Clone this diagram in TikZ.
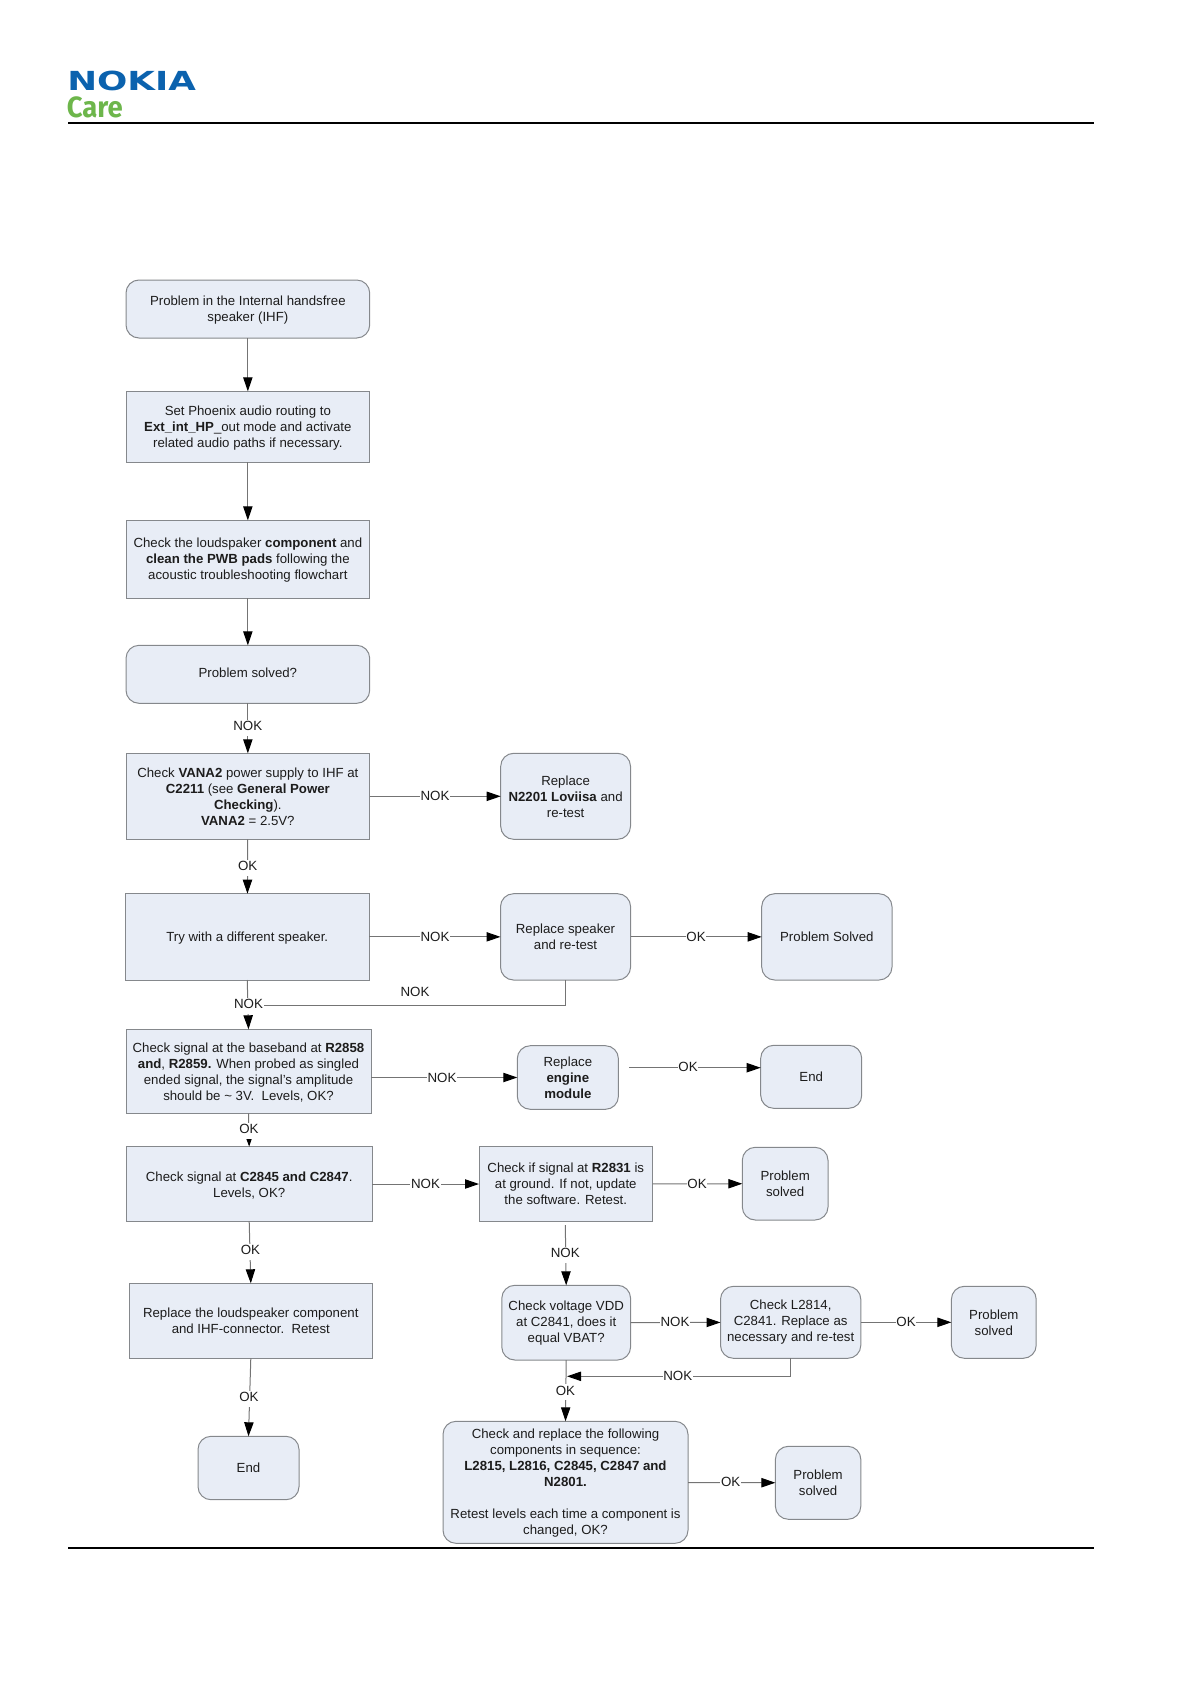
\documentclass[tikz,border=0pt]{standalone}
\usepackage{fontspec}
\usepackage{graphicx}
\setmainfont{Liberation Sans}
\newfontfamily\carefont{Fira Sans}
\newfontfamily\nokiafont{DejaVu Sans}
\usetikzlibrary{arrows.meta}
\definecolor{boxfill}{HTML}{E8EDF6}
\definecolor{boxline}{HTML}{85888C}
\definecolor{linecol}{HTML}{747474}
\definecolor{txt}{HTML}{1C1C1C}
\definecolor{nokiablue}{HTML}{0B62AE}
\definecolor{caregreen}{HTML}{6DB64B}
\tikzset{
  sqbox/.style={draw=boxline,fill=boxfill,line width=0.75pt,inner sep=0pt,outer sep=0pt,align=center,text=txt,font=\fontsize{9.92}{12}\selectfont},
  rbox/.style={sqbox,rounded corners=9.75pt},
  conn/.style={draw=linecol,line width=0.75pt,-{Triangle[length=10.5pt,width=7pt,black]}},
  plain/.style={draw=linecol,line width=0.75pt},
  lab/.style={fill=white,inner sep=0.6pt,outer sep=0pt,text=txt,font=\fontsize{10}{12}\selectfont},
  vlab/.style={lab,anchor=base,yshift=-3.6pt,text height=7.6pt,text depth=3.2pt},
  rulerline/.style={draw=black,line width=1.5pt}
}
\newcommand{\bx}[7]{\node[#2,minimum width={(#5-#3)*0.75pt},minimum height={(#6-#4)*0.75pt}] (#1) at ({(#3+#5)/2},{(#4+#6)/2}) {#7};}
\newcommand{\dn}{\rule{0pt}{8.9pt}}
\newcommand{\up}{\rule[-2.6pt]{0pt}{0pt}}
\begin{document}
\begin{tikzpicture}[x=0.75pt,y=-0.75pt]
\useasboundingbox (0,0) rectangle (1191,1684);
% header and footer
\node[inner sep=0pt,anchor=north west,text=nokiablue] (nokia) at (67,71) {\resizebox{96.5pt}{14.6pt}{\nokiafont\bfseries NOKIA}};
\node[inner sep=0pt,anchor=north west,text=caregreen] (care) at (66.5,96.5) {\resizebox{42pt}{15.6pt}{\carefont\bfseries Care}};
\coordinate (rt1) at (68,122.7); \coordinate (rt2) at (1094,122.7);
\coordinate (rb1) at (68,1547.7); \coordinate (rb2) at (1094,1547.7);
\draw[rulerline] (rt1) -- (rt2);
\draw[rulerline] (rb1) -- (rb2);
% boxes
\bx{a}{rbox}{126}{280}{369.7}{338}{\dn Problem in the Internal handsfree\\speaker (IHF)}
\bx{b}{sqbox}{126}{391.3}{369.7}{462.3}{\dn Set Phoenix audio routing to\\\textbf{Ext\_int\_HP}\_out mode and activate\\related audio paths if necessary.}
\bx{c}{sqbox}{126}{520.3}{369.7}{598.3}{\dn Check the loudspaker \textbf{component} and\\\textbf{clean the PWB pads} following the\\acoustic troubleshooting flowchart}
\bx{d}{rbox}{126}{645.3}{369.7}{703.3}{Problem solved?\up}
\bx{e}{sqbox}{126}{753.3}{369.7}{839.3}{Check \textbf{VANA2} power supply to IHF at\\\textbf{C2211} (see \textbf{General Power}\\\textbf{Checking}).\\\textbf{VANA2} = 2.5V?}
\bx{e2}{rbox}{500.7}{753.3}{630.5}{839.3}{Replace\\\textbf{N2201 Loviisa} and\\re-test}
\bx{f}{sqbox}{125.5}{893.7}{369}{980}{\dn Try with a different speaker.}
\bx{f2}{rbox}{500.5}{893.7}{630.6}{980}{Replace speaker\\and re-test}
\bx{f3}{rbox}{761.7}{893.7}{892}{980}{Problem Solved}
\bx{g}{sqbox}{126}{1029.3}{371}{1113.3}{\dn Check signal at the baseband at \textbf{R2858}\\\textbf{and}, \textbf{R2859.} When probed as singled\\ended signal, the signal's amplitude\\should be \textasciitilde{} 3V.\ \ Levels, OK?}
\bx{g2}{rbox}{517.3}{1045.7}{618.4}{1109.3}{Replace\\\textbf{engine}\\\textbf{module}}
\bx{g3}{rbox}{760.7}{1045.3}{861.7}{1108.3}{End}
\bx{h}{sqbox}{126}{1146.7}{372.4}{1221.3}{\dn Check signal at \textbf{C2845 and C2847}.\\Levels, OK?}
\bx{h2}{sqbox}{479}{1146.7}{652.5}{1221.3}{Check if signal at \textbf{R2831} is\\at ground. If not, update\\the software. Retest.}
\bx{h3}{rbox}{742.3}{1147.3}{828}{1220}{Problem\\solved}
\bx{i}{sqbox}{129.3}{1283.3}{372.3}{1358.3}{Replace the loudspeaker component\\and IHF-connector.\ \ Retest}
\bx{i2}{rbox}{501.8}{1285.3}{630.6}{1360}{Check voltage VDD\\at C2841, does it\\equal VBAT?}
\bx{i3}{rbox}{720.5}{1286.3}{860.8}{1358.3}{Check L2814,\\C2841. Replace as\\necessary and re-test}
\bx{i4}{rbox}{951.4}{1286.3}{1036.2}{1358.3}{Problem\\solved}
\bx{j}{rbox}{198}{1436.3}{299}{1499.7}{End}
\bx{j2}{rbox}{443}{1421.3}{688}{1543.3}{\dn Check and replace the following\\components in sequence:\\\textbf{L2815, L2816, C2845, C2847 and}\\\textbf{N2801.}\\[12pt]Retest levels each time a component is\\changed, OK?}
\bx{j3}{rbox}{775.4}{1446.3}{860.8}{1519.3}{Problem\\solved}
% free ends
\coordinate (gstart) at (629,1067.7);
\coordinate (hstart) at (565.3,1225);
\coordinate (join) at (567,1376.3);
\coordinate (fjoin) at (248,1005.3);
% connectors
\draw[conn] (a) -- (b);
\draw[conn] (b) -- (c);
\draw[conn] (c) -- (d);
\draw[conn] (d) -- (e);
\draw[conn] (e) -- (e2);
\draw[conn] (e) -- (f);
\draw[conn] (f) -- (f2);
\draw[conn] (f2) -- (f3);
\draw[conn] (f.south) -- (g.north);
\draw[plain] (f2.south) |- (fjoin);
\draw[conn] (g.east |- g2.west) -- (g2.west);
\draw[conn] (gstart) -- (g3.west |- gstart);
\draw[conn] (g.south) -- (h.north);
\draw[conn] (h) -- (h2);
\draw[conn] (h2) -- (h3);
\draw[conn] (h.south) -- (i.north);
\draw[conn] (hstart) -- (i2.north);
\draw[conn] (i.south) -- (j.north);
\draw[conn] (i2) -- (i3);
\draw[conn] (i3) -- (i4);
\draw[conn] (i3.south) |- (join);
\draw[conn] (i2.south) -- (j2.north);
\draw[conn] (j2) -- (j3);
% labels
\node[vlab] (l1) at (247.7,726) {NOK};
\node[lab] (l2) at (435,796.3) {NOK};
\node[vlab] (l3) at (247.7,866) {OK};
\node[lab] (l4) at (435,936.8) {NOK};
\node[lab] (l5) at (696,936.8) {OK};
\node[lab] (l6) at (415,992) {NOK};
\node[vlab] (l7) at (248.5,1003.7) {NOK};
\node[lab] (l8) at (442,1077.5) {NOK};
\node[lab] (l9) at (688,1067) {OK};
\node[vlab] (l10) at (249,1128.7) {OK};
\node[lab] (l11) at (425.5,1183.7) {NOK};
\node[lab] (l12) at (697,1183.7) {OK};
\node[vlab] (l13) at (250.5,1250) {OK};
\node[vlab] (l14) at (565.3,1253) {NOK};
\node[lab] (l15) at (675,1322.3) {NOK};
\node[lab] (l16) at (906,1322.3) {OK};
\node[lab] (l17) at (677.8,1376.3) {NOK};
\node[vlab] (l18) at (565.5,1390.3) {OK};
\node[vlab] (l19) at (249,1396.7) {OK};
\node[lab] (l20) at (730.7,1482) {OK};
\end{tikzpicture}
\end{document}
